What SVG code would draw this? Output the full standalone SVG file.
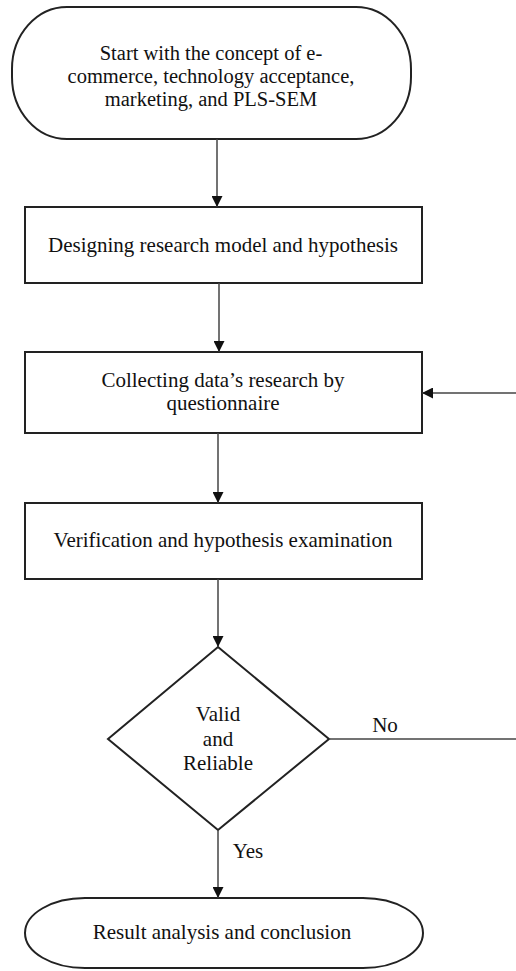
<svg xmlns="http://www.w3.org/2000/svg" width="516" height="971" viewBox="0 0 516 971">
<style>
.shape{fill:#fff;stroke:#222;stroke-width:2}
.conn{stroke:#444;stroke-width:1.5;fill:none}
text{font-family:"Liberation Serif","Times New Roman",serif;font-size:21px;fill:#111;text-anchor:middle}
.tight{font-size:20.5px}
</style>
<defs>
<marker id="arr" viewBox="0 0 10 10" refX="10" refY="5" markerWidth="11" markerHeight="11" markerUnits="userSpaceOnUse" orient="auto">
<path d="M0,0 L10,5 L0,10 Z" fill="#111"/>
</marker>
</defs>
<rect width="516" height="971" fill="#fff"/>
<g id="start">
<rect class="shape" x="12" y="7" width="399" height="132" rx="55" ry="62"/>
<text class="tight" x="211" y="60">Start with the concept of e-</text>
<text class="tight" x="211" y="83">commerce, technology acceptance,</text>
<text class="tight" x="211" y="106">marketing, and PLS-SEM</text>
</g>
<g id="design">
<rect class="shape" x="25" y="207" width="397" height="76"/>
<text x="223" y="252">Designing research model and hypothesis</text>
</g>
<g id="collect">
<rect class="shape" x="25" y="352" width="397" height="81"/>
<text x="223" y="387">Collecting data’s research by</text>
<text x="223" y="410">questionnaire</text>
</g>
<g id="verify">
<rect class="shape" x="25" y="503" width="397" height="76"/>
<text x="223" y="547">Verification and hypothesis examination</text>
</g>
<g id="decision">
<polygon class="shape" points="218,647 329,739 218,830 108,739"/>
<text x="218" y="721">Valid</text>
<text x="218" y="746">and</text>
<text x="218" y="770">Reliable</text>
</g>
<g id="result">
<rect class="shape" x="25" y="898" width="398" height="70" rx="60" ry="35"/>
<text x="222" y="939">Result analysis and conclusion</text>
</g>
<g id="connectors">
<line class="conn" x1="217" y1="139" x2="217" y2="207" marker-end="url(#arr)"/>
<line class="conn" x1="219" y1="283" x2="219" y2="352" marker-end="url(#arr)"/>
<line class="conn" x1="218" y1="433" x2="218" y2="503" marker-end="url(#arr)"/>
<line class="conn" x1="218" y1="579" x2="218" y2="647" marker-end="url(#arr)"/>
<line class="conn" x1="218" y1="830" x2="218" y2="898" marker-end="url(#arr)"/>
<line class="conn" x1="329" y1="739" x2="516" y2="739"/>
<line class="conn" x1="516" y1="393" x2="422" y2="393" marker-end="url(#arr)"/>
<text x="385" y="732">No</text>
<text x="248" y="858">Yes</text>
</g>
</svg>
